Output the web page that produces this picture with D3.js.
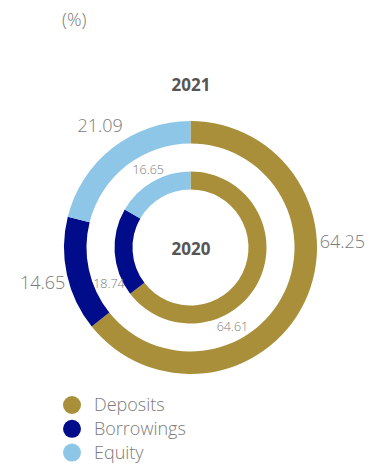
<!DOCTYPE html>
<html>
<head>
<meta charset="utf-8">
<script src="https://cdn.jsdelivr.net/npm/d3@7"></script>
<style>
  html, body { margin: 0; padding: 0; background: #fff; }
  svg { display: block; font-family: "Open Sans", "Noto Sans", sans-serif; }
</style>
</head>
<body>
<svg id="chart" width="378" height="464"></svg>
<script>
// Funding structure, share of total (%)
const categories = ["Deposits", "Borrowings", "Equity"];
const values2021 = [64.25, 14.65, 21.09];
const values2020 = [64.61, 18.74, 16.65];
const colors = ["#a98f39", "#000c8a", "#8ec6e8"];

// Label placement: angular nudge (degrees) from each slice's mid-angle
const nudge2021 = [-28, -1, 1.5];
const nudge2020 = [35.6, -20, 1.6];

const svg = d3.select("#chart");
const cx = 190.5, cy = 247.5;

const color = d3.scaleOrdinal().domain(categories).range(colors);
const pie = d3.pie().sort(null).value(d => d.value);

const rings = [
  { year: "2021", values: values2021, inner: 104, outer: 126.5, labelR: 152, size: 18, nudge: nudge2021 },
  { year: "2020", values: values2020, inner: 58, outer: 76, labelR: 89, size: 12.5, nudge: nudge2020 }
];

const g = svg.append("g").attr("transform", `translate(${cx},${cy})`);

rings.forEach(ring => {
  const data = categories.map((c, i) => ({ cat: c, value: ring.values[i] }));
  const arcs = pie(data);
  const arc = d3.arc().innerRadius(ring.inner).outerRadius(ring.outer);

  g.append("g").selectAll("path")
    .data(arcs)
    .join("path")
    .attr("d", arc)
    .attr("fill", d => color(d.data.cat));

  g.append("g").selectAll("text")
    .data(arcs)
    .join("text")
    .attr("transform", (d, i) => {
      const a = (d.startAngle + d.endAngle) / 2 + ring.nudge[i] * Math.PI / 180;
      return `translate(${ring.labelR * Math.sin(a)},${-ring.labelR * Math.cos(a)})`;
    })
    .attr("text-anchor", "middle")
    .attr("dy", "0.36em")
    .attr("font-size", ring.size)
    .attr("font-weight", 300)
    .attr("fill", "#7b7b7b")
    .text(d => d3.format(".2f")(d.data.value));
});

// Year captions
svg.append("text")
  .attr("x", 191).attr("y", 91)
  .attr("text-anchor", "middle")
  .attr("font-size", 17).attr("font-weight", 700)
  .attr("fill", "#555")
  .text("2021");

svg.append("text")
  .attr("x", 191).attr("y", 255)
  .attr("text-anchor", "middle")
  .attr("font-size", 17).attr("font-weight", 700)
  .attr("fill", "#555")
  .text("2020");

// Unit
svg.append("text")
  .attr("x", 62).attr("y", 25.5)
  .attr("font-size", 18).attr("font-weight", 300)
  .attr("fill", "#777")
  .text("(%)");

// Legend
const legend = svg.append("g").attr("transform", "translate(72,405)");
const row = legend.selectAll("g")
  .data(categories)
  .join("g")
  .attr("transform", (d, i) => `translate(0,${i * 23.8})`);
row.append("circle").attr("r", 9).attr("fill", d => color(d));
row.append("text")
  .attr("x", 22).attr("dy", "0.36em")
  .attr("font-size", 18).attr("font-weight", 300)
  .attr("fill", "#7b7b7b")
  .text(d => d);
</script>
</body>
</html>
